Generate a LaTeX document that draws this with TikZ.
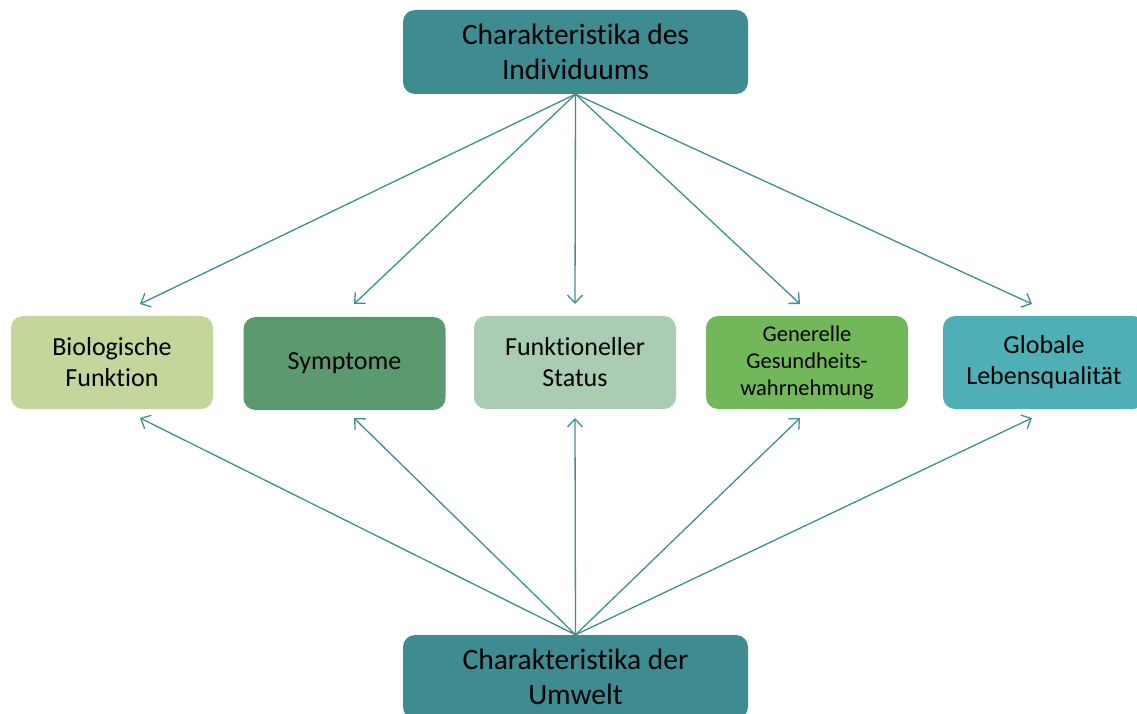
\documentclass[tikz,border=0pt]{standalone}
\usepackage{fontspec}
\setmainfont{Carlito}[RawFeature={-liga;-clig}]
\usetikzlibrary{arrows.meta}

\definecolor{tealdark}{HTML}{3E8B91}
\definecolor{arrowteal}{HTML}{3F8E94}
\definecolor{bioGreen}{HTML}{C3D69B}
\definecolor{symGreen}{HTML}{5A9A6E}
\definecolor{funGreen}{HTML}{A9CCB2}
\definecolor{genGreen}{HTML}{72B85A}
\definecolor{gloTeal}{HTML}{4FAFB6}

\tikzset{
  mainbox/.style={fill=tealdark, rounded corners=12pt, minimum width=345pt,
    minimum height=84pt, align=center, font=\fontsize{29.5}{35}\selectfont,
    text=black, inner sep=0pt},
  midbox/.style={rounded corners=12pt, minimum width=202pt, minimum height=93pt,
    align=center, font=\fontsize{26}{31}\selectfont, text=black, inner sep=0pt},
  arr/.style={draw=arrowteal, line width=1.3pt,
    -{Straight Barb[length=8pt,width=15pt,line width=1.3pt]}}
}

\begin{document}
\begin{tikzpicture}[x=1pt,y=1pt]
  \useasboundingbox (0,0) rectangle (1137,713);
  \begin{scope}
    \clip (0,0) rectangle (1137,713);

    % top and bottom characteristic boxes
    \node[mainbox] (indiv) at (575.5,661) {Charakteristika des\\Individuums};
    \node[mainbox] (umwelt) at (575.5,36) {Charakteristika der\\Umwelt};

    % the five outcome boxes
    \node[midbox, fill=bioGreen] (bio) at (112,350.5) {Biologische\\Funktion};
    \node[midbox, fill=symGreen] (sym) at (344.5,349.5) {Symptome};
    \node[midbox, fill=funGreen] (fun) at (575,350.5) {Funktioneller\\Status};
    \node[midbox, fill=genGreen, font=\fontsize{22.5}{27}\selectfont] (gen) at (807,350.5)
      {Generelle\\Gesundheits-\\wahrnehmung};
    \node[midbox, fill=gloTeal] (glo) at (1044,350.5) {Globale\\Lebensqualität};

    % arrow tips above the outcome boxes
    \coordinate (a1) at (140,409);
    \coordinate (a2) at (354,409);
    \coordinate (a3) at (575,409);
    \coordinate (a4) at (800,409);
    \coordinate (a5) at (1032,409);
    % arrow tips below the outcome boxes
    \coordinate (b1) at (140,295);
    \coordinate (b2) at (354,295);
    \coordinate (b3) at (575,295);
    \coordinate (b4) at (800,295);
    \coordinate (b5) at (1032,295);

    \foreach \i in {1,...,5} {
      \draw[arr] (indiv.south) -- (a\i);
      \draw[arr] (umwelt.north) -- (b\i);
    }
  \end{scope}
\end{tikzpicture}
\end{document}
